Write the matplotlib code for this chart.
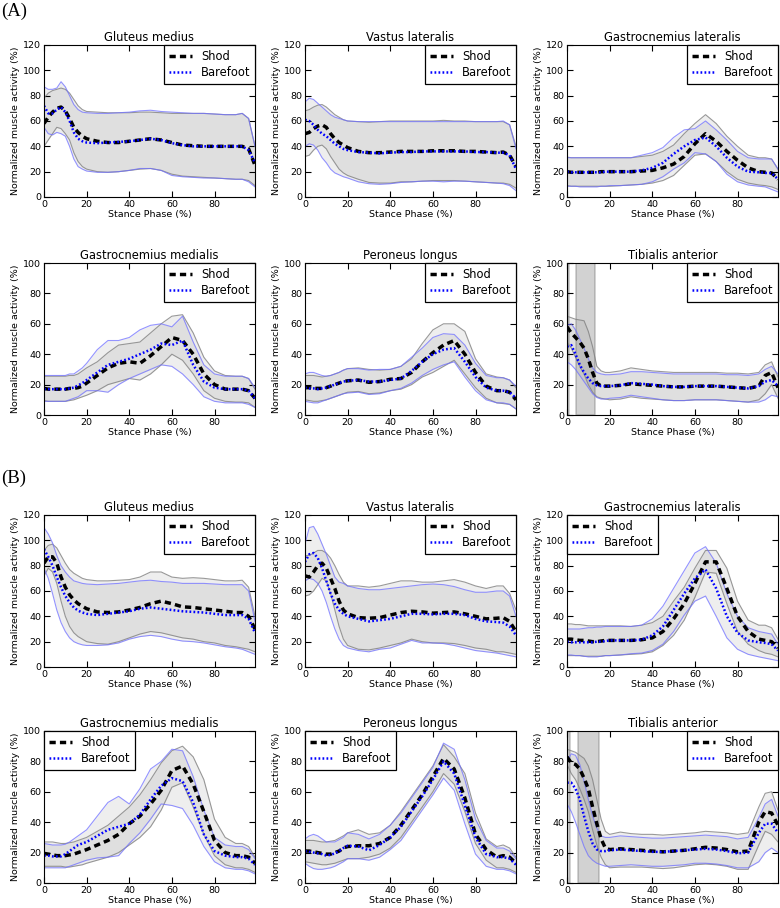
import matplotlib
matplotlib.use("Agg")
import matplotlib.pyplot as plt

# stance phase sample points (%)
X = [0, 2, 4, 6, 8, 10, 12, 14, 16, 18, 20, 25, 30, 35, 40, 45, 50, 55, 60, 65, 70, 75, 80, 85, 90, 93, 96, 99]

# ---------------- (A) ----------------
# Gluteus medius
a_glut_shod = [58, 63, 67, 70, 71, 68, 62, 55, 51, 48, 46, 44, 43, 43, 44, 45, 46, 45, 43, 41, 40.5, 40, 40, 40, 40, 40, 38, 25]
a_glut_shod_hi = [78, 82, 84, 85, 86, 85, 82, 77, 72, 69, 67.5, 67, 66.5, 66.5, 66.5, 67, 67, 66.5, 66, 66, 66, 66, 65.5, 65, 65, 66, 62, 40]
a_glut_shod_lo = [40, 45, 50, 55, 54, 50, 45, 35, 28, 24, 22, 20, 19.5, 20, 21, 22, 22.5, 21, 18, 16.5, 16, 15.5, 15, 14.5, 14, 14, 13, 9]
a_glut_bare = [72, 66, 66, 69, 71, 67, 60, 51, 46, 44, 43, 42.5, 43, 43.5, 44, 45, 46, 45, 42.5, 41, 40, 40, 40, 40, 40, 40, 37, 27]
a_glut_bare_hi = [87, 85, 85, 86, 91, 87, 80, 73, 69, 67, 66.5, 66, 66, 66.5, 67, 68, 68.5, 67.5, 67, 66.5, 66, 66, 65.5, 65, 65, 66, 62, 40]
a_glut_bare_lo = [55, 50, 49, 51, 50, 48, 40, 30, 24, 22, 20.5, 19.5, 19.5, 20, 21, 22.5, 22.5, 21, 17, 16, 15.5, 15, 15, 14.5, 14, 14, 12, 8]

# Vastus lateralis
a_vast_shod = [50, 51, 54, 56, 57, 55, 50, 46, 43, 41, 39, 36, 35, 35, 35.5, 36, 36, 36, 36.5, 36.5, 36.5, 36, 36, 35.5, 35, 35.5, 33, 24]
a_vast_shod_hi = [68, 69, 71, 72.5, 73, 71, 68, 65, 63, 61, 60, 59.5, 59, 59.5, 60, 60, 60, 60, 60, 60.5, 60, 60, 59.5, 59.5, 59.5, 59.5, 57, 40]
a_vast_shod_lo = [32, 33, 37, 40, 41, 38, 32, 27, 22, 19, 17, 14, 11.5, 11, 11, 12, 12, 12.5, 13, 13, 13, 12.5, 12, 11.5, 11, 11, 10, 7]
a_vast_bare = [61, 60, 57, 53, 50, 48, 45, 42, 40, 38, 37, 35.5, 35, 34.5, 35, 35.5, 35.5, 36, 36, 36, 36, 36, 35.5, 35.5, 35, 35, 33, 22]
a_vast_bare_hi = [75, 78, 77, 74, 71, 68, 65, 63, 62, 61, 60, 59.5, 59.5, 59.5, 59.5, 59.5, 59.5, 59.5, 59.5, 59.5, 59.5, 59.5, 59.5, 59.5, 59.5, 60, 57, 38]
a_vast_bare_lo = [40, 42, 41, 37, 31, 27, 22, 19, 17.5, 16, 15, 12, 10.5, 10, 10.5, 11.5, 12, 12.5, 12.5, 12, 12.5, 12.5, 12, 11.5, 11, 10.5, 9, 5]

# Gastrocnemius lateralis
a_gl_shod = [20, 19.5, 19.5, 19.5, 19.5, 19.5, 19.5, 19.5, 20, 20, 20, 20, 20, 20.5, 21, 23, 26, 32, 42, 50, 44, 36, 29, 23, 20, 19.5, 19, 14]
a_gl_shod_hi = [31.5, 31, 31, 31, 31, 31, 31, 31, 31, 31, 31, 31, 31, 32, 33, 36, 41, 50, 58, 65, 58, 48, 40, 33, 31, 31, 30, 22]
a_gl_shod_lo = [9, 8.5, 8.5, 8.5, 8.5, 8.5, 8.5, 8.5, 8.5, 8.5, 8.5, 9, 9.5, 10, 11, 13, 17, 25, 33, 34, 28, 20, 14, 11, 9.5, 9, 8, 6]
a_gl_bare = [20, 19.5, 19.5, 19.5, 19.5, 19.5, 19.5, 19.5, 19.5, 20, 20, 20, 20, 21, 23, 27, 34, 40, 45, 47, 40, 31, 24, 20, 19.5, 19, 19, 14]
a_gl_bare_hi = [31, 31, 31, 31, 31, 31, 31, 31, 31, 31, 31, 31, 31, 33, 35, 39, 47, 53, 54, 60, 53, 45, 36, 31, 30, 30, 30, 22]
a_gl_bare_lo = [8.5, 8.5, 8.5, 8, 8, 8, 8, 8, 8.5, 8.5, 9, 9, 9.5, 10, 12, 16, 22, 27, 35, 34, 28, 18, 12, 9.5, 8.5, 8, 6, 4]

# Gastrocnemius medialis
a_gm_shod = [17.5, 17, 17, 17, 17, 17, 17.5, 17.5, 18, 19, 21, 26, 31, 34, 35, 34, 39, 45, 51, 49, 40, 27, 20, 17, 17, 17, 16, 11]
a_gm_shod_hi = [25.5, 25.5, 25.5, 25.5, 25.5, 25.5, 26, 26, 27, 29, 31, 35, 41, 46, 47, 48, 54, 60, 65, 66, 54, 38, 29, 26, 25.5, 25.5, 24, 17]
a_gm_shod_lo = [9.5, 9, 9, 9, 9, 9, 9.5, 10, 11, 12, 13, 16, 20, 22, 24, 23, 27, 33, 40, 36, 27, 16, 11, 9, 8.5, 8.5, 8, 5]
a_gm_bare = [17, 17, 17, 17, 17, 17, 17.5, 18, 19.5, 21, 23, 28, 33, 35, 37, 40, 43, 47, 46, 49, 33, 22, 18, 17, 17, 17, 16, 11]
a_gm_bare_hi = [26, 26, 26, 26, 26, 26, 27, 27, 29, 31, 34, 43, 49, 49, 51, 56, 59, 60, 58, 65, 48, 33, 27, 25.5, 25.5, 25.5, 24, 18]
a_gm_bare_lo = [9, 9, 9, 9, 9, 9, 10, 11, 12, 14, 16, 16, 15, 20, 24, 27, 30, 33, 32, 27, 20, 12, 9, 8, 8, 8, 7, 5]

# Peroneus longus
a_pl_shod = [18, 18, 17.5, 17.5, 17.5, 18, 19, 20, 21, 22, 22.5, 23, 21.5, 22, 23.5, 24, 28, 35, 41, 46, 49, 40, 28, 19, 16, 16, 15, 10]
a_pl_shod_hi = [26, 26, 26, 25.5, 25, 25.5, 26, 27, 28, 29.5, 30.5, 31, 30, 29.5, 30, 32, 37, 47, 56, 60, 60, 55, 37, 27, 25, 24.5, 23, 18]
a_pl_shod_lo = [10, 9.5, 9, 9, 9.5, 10, 11, 12, 13, 14, 15, 15.5, 14, 14.5, 16, 17, 20, 25, 28, 32, 36, 27, 18, 11, 8, 7.5, 7, 4]
a_pl_bare = [18, 17.5, 17.5, 17, 17.5, 18, 19, 20, 21, 22, 22.5, 23, 22, 22, 23, 24, 29, 35, 40, 43, 44, 35, 25, 18, 16, 16, 15, 11]
a_pl_bare_hi = [27, 28, 28, 27, 26, 25.5, 26, 27, 28, 29.5, 30.5, 30.5, 29.5, 30, 30, 32, 38, 44, 51, 53.5, 53, 46, 34, 26, 24.5, 24.5, 23, 19]
a_pl_bare_lo = [9, 8.5, 8, 8, 9, 10, 11, 12, 13, 14, 14.5, 15, 13.5, 14, 16, 17.5, 21, 26, 30, 33, 35, 25, 16, 10, 8, 8, 7, 4]

# Tibialis anterior
a_ta_shod = [58, 54, 51, 48, 44, 37, 28, 21, 19, 19, 19, 19.5, 20.5, 20, 19.5, 19, 18.5, 18.5, 19, 19, 19, 18.5, 18, 17.5, 19, 26, 28, 18]
a_ta_shod_hi = [65, 64, 63, 62.5, 62, 55, 45, 32, 29, 28, 28, 29, 31, 30, 29, 28.5, 28, 28, 28, 28, 28, 27.5, 27.5, 27, 28, 33, 35, 25]
a_ta_shod_lo = [48, 44, 38, 32, 27, 20, 15, 12, 11, 10.5, 10, 10.5, 12, 11, 10.5, 10, 9.5, 9.5, 10, 10, 10, 9.5, 9, 8.5, 10, 14, 20, 11]
a_ta_bare = [45, 46, 40, 33, 28, 24, 21, 19.5, 19, 19, 19, 19.5, 21, 20.5, 20, 19, 18.5, 18.5, 19, 19, 19, 18.5, 18, 17.5, 19, 22, 23, 19]
a_ta_bare_hi = [59, 60, 56, 50, 44, 37, 31, 28, 27, 26.5, 26.5, 27, 28.5, 28.5, 28, 27.5, 27, 27, 27, 27, 27, 26.5, 26.5, 26, 27, 30, 32, 27]
a_ta_bare_lo = [35, 33, 30, 26, 22, 18, 14, 11.5, 10.5, 10.5, 11, 11.5, 13, 12, 11, 10, 9.5, 9.5, 10, 10, 10, 9.5, 9, 8.5, 8.5, 10, 13, 12]
a_ta_windows = [(0, 1), (4, 13)]

# ---------------- (B) ----------------
b_glut_shod = [82, 87, 87, 82, 71, 63, 57, 53, 50, 48, 46, 43.5, 43, 43.5, 45, 47, 50, 52, 50, 47.5, 47, 46, 45, 44, 43, 43, 40, 30]
b_glut_shod_hi = [92, 96, 97, 94, 88, 82, 77, 74, 72, 70, 69, 68, 68, 68.5, 69, 71, 75, 75, 71, 70, 70.5, 70, 69, 68, 68, 68.5, 63, 40]
b_glut_shod_lo = [72, 78, 75, 66, 52, 40, 32, 27, 24, 22, 20, 18.5, 18, 20, 23, 26, 28, 27, 25, 23, 22, 20, 19, 17, 16, 15, 14, 12]
b_glut_bare = [93, 87, 80, 71, 63, 56, 51, 47, 44.5, 43, 42, 41, 42, 43, 44, 46, 47, 46, 45, 44, 43.5, 43, 42, 41, 41, 41, 38, 27]
b_glut_bare_hi = [110, 105, 98, 88, 80, 75, 71, 68, 67, 66, 65.5, 65, 65.5, 66, 67, 68, 68.5, 67.5, 67, 66, 66, 66, 65.5, 65, 65, 65, 60, 36]
b_glut_bare_lo = [78, 70, 58, 45, 35, 28, 23, 20, 18.5, 17.5, 17, 17, 17.5, 19, 22, 24, 25, 24, 22, 20.5, 20, 19, 17.5, 16, 15, 14, 12, 10]

b_vast_shod = [72, 71, 75, 80, 82, 78, 70, 62, 52, 45, 42, 39, 38.5, 39, 41, 43, 44, 43.5, 42.5, 43, 43.5, 42, 40, 38, 38.5, 39, 36, 28]
b_vast_shod_hi = [88, 88, 90, 92, 92, 90, 86, 80, 73, 67, 64, 64, 63, 64, 66, 68, 68, 67, 67, 68, 69, 67, 64, 62, 64, 64, 58, 45]
b_vast_shod_lo = [56, 57, 60, 65, 70, 68, 58, 45, 32, 22, 17, 14, 13.5, 15, 17, 19, 22, 20, 19, 19, 18.5, 17, 15, 14, 12, 12, 11, 10]
b_vast_bare = [83, 89, 90, 86, 78, 68, 58, 50, 45, 42, 40, 38, 36, 37, 38, 40, 42, 42, 41.5, 42, 42, 41, 38, 36, 35.5, 35, 32, 25]
b_vast_bare_hi = [97, 110, 111, 105, 97, 89, 80, 71, 67, 66, 64, 62, 61, 61, 62, 63, 64, 65, 65.5, 65, 63.5, 61, 59, 59, 60, 60, 56, 40]
b_vast_bare_lo = [68, 70, 69, 66, 60, 51, 40, 30, 22, 17, 15, 13, 12, 14, 15, 18, 21, 19, 19, 18.5, 17, 15, 13, 12, 11, 10, 9, 8]

b_gl_shod = [22, 22, 21.5, 21, 21, 20.5, 20, 20, 20.5, 21, 21, 21, 21, 21.5, 23, 28, 38, 50, 66, 83, 83, 62, 40, 28, 22, 21, 20, 15]
b_gl_shod_hi = [34, 34, 33.5, 33.5, 33, 32.5, 32.5, 32.5, 32.5, 32.5, 32.5, 32.5, 32, 33, 35, 40, 52, 63, 78, 92, 92, 78, 52, 37, 33, 33, 31, 22]
b_gl_shod_lo = [9, 9, 9, 9, 8.5, 8.5, 8.5, 8.5, 8.5, 9, 9, 9.5, 10, 10.5, 12, 17, 25, 37, 55, 75, 74, 50, 28, 18, 13, 11, 10, 8]
b_gl_bare = [20, 19.5, 19.5, 19.5, 19.5, 19.5, 19.5, 20, 20, 20.5, 21, 21, 21, 21.5, 25, 32, 45, 58, 70, 77, 62, 40, 27, 21, 19.5, 19, 18, 13]
b_gl_bare_hi = [30, 30, 30, 30, 30.5, 31, 31, 31.5, 31.5, 32, 32, 32, 32, 33, 38, 48, 62, 76, 90, 95, 82, 58, 40, 31, 28, 27, 26, 18]
b_gl_bare_lo = [9.5, 9.5, 9, 9, 8.5, 8, 8, 8, 8.5, 9, 9, 9.5, 10.5, 11, 13, 18, 28, 41, 52, 56, 40, 23, 14, 10, 8, 7, 6, 5]

b_gm_shod = [19.5, 19, 18.5, 18, 18, 18, 18.5, 19, 20, 21, 22, 25, 28, 32, 39, 44, 52, 61, 74, 77, 65, 47, 28, 20, 18, 18, 17, 13]
b_gm_shod_hi = [27, 27, 27, 26.5, 26, 26, 26.5, 27, 28, 29, 30, 34, 38, 44, 50, 58, 68, 79, 87, 90, 83, 68, 42, 30, 26, 26, 24, 17]
b_gm_shod_lo = [11, 11, 11, 11, 11, 10.5, 10.5, 11, 11.5, 12, 13, 15, 17, 20, 25, 30, 37, 48, 63, 66, 50, 32, 18, 12, 10, 10, 9, 7]
b_gm_bare = [18, 18, 17.5, 17.5, 17.5, 19, 21, 23, 25, 26, 27, 31, 35, 37, 39, 45, 55, 64, 69, 67, 53, 32, 21, 18, 17, 17, 16, 12]
b_gm_bare_hi = [26, 25.5, 25, 25, 25, 25.5, 27, 29, 31, 33, 35, 44, 53, 57, 52, 62, 75, 80, 88, 87, 70, 48, 30, 25, 24, 24, 22, 16]
b_gm_bare_lo = [10, 10, 10, 10, 10, 10, 11, 12, 13, 14, 15, 16.5, 17, 18, 26, 33, 42, 52, 51, 49, 38, 24, 14, 10, 9, 9, 8, 6]

b_pl_shod = [21, 21, 20.5, 20, 19.5, 19, 19, 20, 21, 23, 24, 24.5, 24.5, 26, 30, 38, 48, 58, 70, 82, 75, 56, 32, 22, 17, 18, 17, 13]
b_pl_shod_hi = [28, 28, 28, 27.5, 27, 27, 27.5, 28, 29.5, 31, 33, 35, 32, 33, 38, 47, 57, 67, 77, 91, 83, 72, 46, 29, 24, 25, 23, 17]
b_pl_shod_lo = [14, 13.5, 13, 12.5, 12, 12, 12.5, 13, 14, 15, 16, 16, 17, 19, 23, 30, 40, 50, 60, 72, 65, 47, 26, 15, 10, 10, 9, 7]
b_pl_bare = [21, 20.5, 20, 19.5, 19, 18, 18.5, 19.5, 21, 23, 24.5, 24, 21.5, 25, 30, 37, 47, 57, 68, 80, 72, 51, 30, 19, 17, 17, 16, 12]
b_pl_bare_hi = [29, 31, 32, 31, 29, 27, 27, 27, 28.5, 30, 33, 32, 29, 32, 38, 46, 56, 66, 76, 92, 88, 68, 42, 28, 23, 23, 21, 16]
b_pl_bare_lo = [13, 11, 9.5, 9, 9, 9.5, 10, 11, 12.5, 14, 16, 16, 15, 17, 22, 28, 38, 48, 58, 69, 61, 39, 19, 11, 9, 9, 8, 6]

b_ta_shod = [83, 79, 78, 75, 69, 62, 50, 39, 29, 23, 22, 22.5, 22, 21.5, 21, 20.5, 21, 21.5, 22.5, 23.5, 23, 22, 20.5, 21, 40, 47, 46, 38]
b_ta_shod_hi = [88, 87, 86, 84, 82, 77, 68, 55, 42, 34, 32, 33.5, 32.5, 32, 32, 31.5, 32, 32.5, 33, 34, 33.5, 33, 32, 33, 50, 59, 60, 48]
b_ta_shod_lo = [78, 72, 68, 62, 55, 47, 35, 25, 17, 12, 10, 10.5, 10.5, 10.5, 10, 9.5, 10, 11, 12, 12.5, 12, 11, 9, 9, 25, 34, 32, 27]
b_ta_bare = [66, 66, 62, 55, 44, 34, 26, 22, 21, 21, 21.5, 22, 21.5, 21, 20.5, 20.5, 21, 21.5, 22, 22.5, 22, 21, 19.5, 20, 33, 39, 39, 33]
b_ta_bare_hi = [80, 85, 84, 78, 67, 55, 44, 36, 31, 30, 30, 31, 30.5, 30, 29.5, 29.5, 30, 30.5, 31, 31.5, 31, 30.5, 29, 30, 43, 52, 55, 44]
b_ta_bare_lo = [52, 47, 40, 32, 24, 18, 15, 13, 12, 11, 11, 11.5, 12, 11.5, 11, 11, 11.5, 12, 13, 13, 12.5, 11.5, 10, 10, 14, 20, 23, 20]
b_ta_windows = [(0, 1.5), (5, 15)]

titles = ["Gluteus medius", "Vastus lateralis", "Gastrocnemius lateralis",
          "Gastrocnemius medialis", "Peroneus longus", "Tibialis anterior"]

panels_a = [
    (a_glut_shod, a_glut_shod_hi, a_glut_shod_lo, a_glut_bare, a_glut_bare_hi, a_glut_bare_lo),
    (a_vast_shod, a_vast_shod_hi, a_vast_shod_lo, a_vast_bare, a_vast_bare_hi, a_vast_bare_lo),
    (a_gl_shod, a_gl_shod_hi, a_gl_shod_lo, a_gl_bare, a_gl_bare_hi, a_gl_bare_lo),
    (a_gm_shod, a_gm_shod_hi, a_gm_shod_lo, a_gm_bare, a_gm_bare_hi, a_gm_bare_lo),
    (a_pl_shod, a_pl_shod_hi, a_pl_shod_lo, a_pl_bare, a_pl_bare_hi, a_pl_bare_lo),
    (a_ta_shod, a_ta_shod_hi, a_ta_shod_lo, a_ta_bare, a_ta_bare_hi, a_ta_bare_lo),
]
panels_b = [
    (b_glut_shod, b_glut_shod_hi, b_glut_shod_lo, b_glut_bare, b_glut_bare_hi, b_glut_bare_lo),
    (b_vast_shod, b_vast_shod_hi, b_vast_shod_lo, b_vast_bare, b_vast_bare_hi, b_vast_bare_lo),
    (b_gl_shod, b_gl_shod_hi, b_gl_shod_lo, b_gl_bare, b_gl_bare_hi, b_gl_bare_lo),
    (b_gm_shod, b_gm_shod_hi, b_gm_shod_lo, b_gm_bare, b_gm_bare_hi, b_gm_bare_lo),
    (b_pl_shod, b_pl_shod_hi, b_pl_shod_lo, b_pl_bare, b_pl_bare_hi, b_pl_bare_lo),
    (b_ta_shod, b_ta_shod_hi, b_ta_shod_lo, b_ta_bare, b_ta_bare_hi, b_ta_bare_lo),
]
legend_a = ["upper right"] * 6
legend_b = ["upper right", "upper right", "upper left", "upper left", "upper left", "upper right"]

W, H = 780, 908
fig = plt.figure(figsize=(W / 100, H / 100), dpi=100)
fig.patch.set_facecolor("white")

col_left = [44, 305, 567]
ax_w = 211
ax_h = 152
row_bottom_a = [197, 415]
row_bottom_b = [667, 883]


def draw(ax, data, title, ymax, loc, windows=None):
    shod, shod_hi, shod_lo, bare, bare_hi, bare_lo = data
    ax.fill_between(X, shod_lo, shod_hi, color="gray", alpha=0.13, lw=0)
    ax.fill_between(X, bare_lo, bare_hi, color="gray", alpha=0.13, lw=0)
    ax.plot(X, shod_hi, color="gray", lw=0.8, alpha=0.8)
    ax.plot(X, shod_lo, color="gray", lw=0.8, alpha=0.8)
    ax.plot(X, bare_hi, color="#7070ff", lw=0.8, alpha=0.75)
    ax.plot(X, bare_lo, color="#7070ff", lw=0.8, alpha=0.75)
    if windows:
        for a, b in windows:
            ax.axvspan(a, b, facecolor="gray", edgecolor="dimgray", alpha=0.35, lw=1.2)
    ax.plot(X, shod, color="black", lw=2.5, ls=(0, (1.8, 1.2)), label="Shod")
    ax.plot(X, bare, color="blue", lw=1.8, ls=(0, (0.7, 0.9)), label="Barefoot")
    ax.set_xlim(0, 99)
    ax.set_ylim(0, ymax)
    ax.set_xticks([0, 20, 40, 60, 80])
    ax.set_yticks(range(0, ymax + 1, 20))
    ax.tick_params(direction="in", top=True, right=True, labelsize=6.8, length=4, pad=2)
    ax.set_title(title, fontsize=8.3, pad=3)
    ax.set_xlabel("Stance Phase (%)", fontsize=6.8, labelpad=1)
    ax.set_ylabel("Normalized muscle activity (%)", fontsize=6.8, labelpad=2)
    leg = ax.legend(loc=loc, fontsize=8.3, borderaxespad=0, fancybox=False,
                    framealpha=1, edgecolor="black", handlelength=2.0,
                    borderpad=0.4, labelspacing=0.3, handletextpad=0.8)
    leg.get_frame().set_linewidth(0.9)


for panels, legends, bottoms in [(panels_a, legend_a, row_bottom_a), (panels_b, legend_b, row_bottom_b)]:
    for i in range(6):
        r, c = divmod(i, 3)
        ax = fig.add_axes([col_left[c] / W, 1 - bottoms[r] / H, ax_w / W, ax_h / H])
        ymax = 120 if r == 0 else 100
        windows = None
        if i == 5:
            windows = a_ta_windows if panels is panels_a else b_ta_windows
        draw(ax, panels[i], titles[i], ymax, legends[i], windows)

fig.text(1 / W, 1 - 11 / H, "(A)", fontsize=13.5, family="Liberation Serif", va="center", ha="left")
fig.text(1 / W, 1 - 478 / H, "(B)", fontsize=13.5, family="Liberation Serif", va="center", ha="left")

fig.savefig("out.png", dpi=100, facecolor="white")
